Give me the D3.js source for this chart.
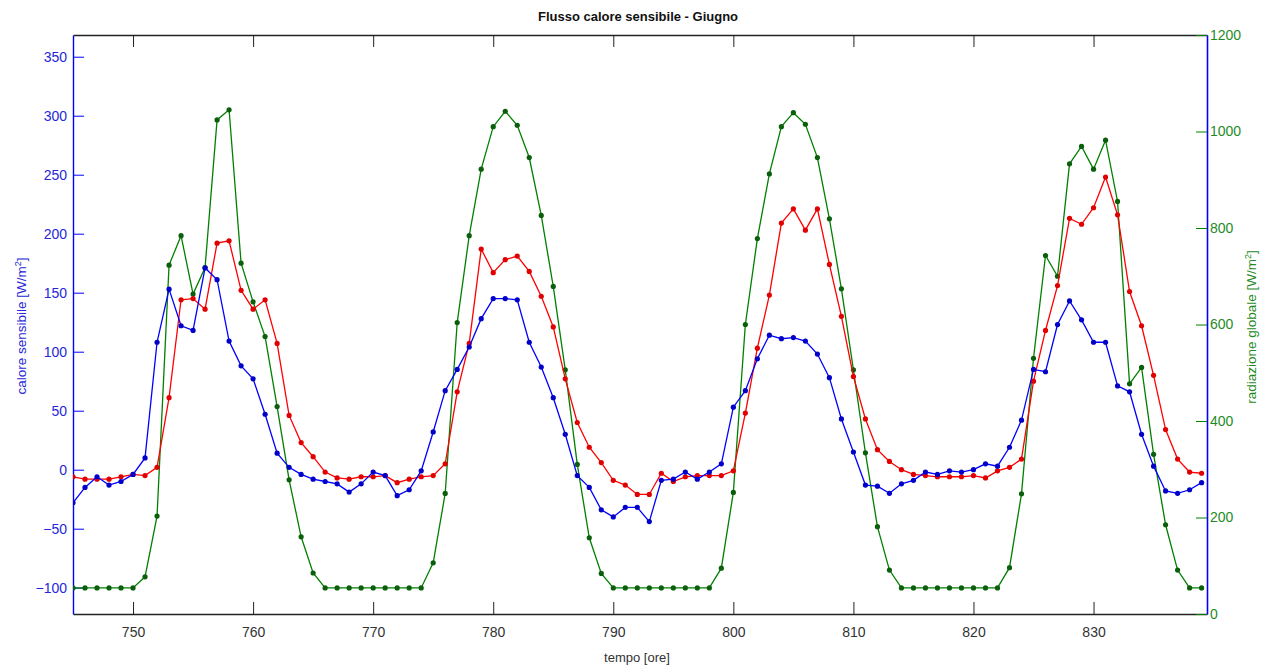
<!DOCTYPE html>
<html>
<head>
<meta charset="utf-8">
<script src="https://cdn.jsdelivr.net/npm/d3@7"></script>
<style>
  html, body { margin: 0; padding: 0; background: #ffffff; }
  svg { display: block; font-family: "Liberation Sans", Arial, sans-serif; }
</style>
</head>
<body>
<svg id="chart" width="1262" height="670"></svg>
<script>
// ---- data ----
const hours = d3.range(745, 840); // 745 .. 839
const xTicks = [750, 760, 770, 780, 790, 800, 810, 820, 830];
const leftTicks = [-100, -50, 0, 50, 100, 150, 200, 250, 300, 350];
const rightTicks = [0, 200, 400, 600, 800, 1000, 1200];

const blueSeries = [
  -28, -15, -6, -13, -10, -4, 10, 108, 153, 122,
  118, 171, 161, 109, 88, 77, 47, 14, 2, -4,
  -8, -10, -12, -19, -12, -2, -5, -22, -17, -1,
  32, 67, 85, 104, 128, 145, 145, 144, 108, 87,
  61, 30, -5, -15, -34, -40, -32, -32, -44, -9,
  -8, -2, -8, -2, 5, 53, 67, 94, 114, 111,
  112, 109, 98, 78, 43, 15, -13, -14, -20, -12,
  -9, -2, -4, -1, -2, 0, 5, 3, 19, 42,
  85, 83, 123, 143, 127, 108, 108, 71, 66, 30,
  3, -18, -20, -17, -11
];
const redSeries = [
  -6, -8, -8, -8, -6, -4, -5, 2, 61, 144,
  145, 136, 192, 194, 152, 136, 144, 107, 46, 23,
  11, -2, -7, -8, -6, -6, -5, -11, -8, -6,
  -5, 5, 66, 107, 187, 167, 178, 181, 168, 147,
  121, 77, 40, 19, 6, -9, -13, -21, -21, -3,
  -10, -6, -5, -5, -5, -1, 48, 103, 148, 209,
  221, 203, 221, 174, 130, 79, 43, 17, 7, 0,
  -4, -5, -6, -6, -6, -5, -7, -1, 2, 9,
  75, 118, 156, 213, 208, 222, 248, 216, 151, 122,
  80, 34, 9, -2, -3
];
const greenSeries = [
  54, 54, 54, 54, 54, 54, 77, 203, 723, 784,
  663, 718, 1024, 1045, 727, 647, 575, 430, 278, 160,
  85, 54, 54, 54, 54, 54, 54, 54, 54, 54,
  106, 250, 604, 784, 922, 1010, 1042, 1013, 946, 826,
  679, 506, 310, 158, 84, 54, 54, 54, 54, 54,
  54, 54, 54, 54, 95, 252, 600, 778, 912, 1010,
  1039, 1015, 946, 819, 674, 506, 334, 181, 91, 54,
  54, 54, 54, 54, 54, 54, 54, 54, 96, 249,
  530, 743, 700, 933, 969, 922, 982, 855, 477, 511,
  331, 185, 91, 54, 54
];

// ---- layout ----
const svg = d3.select("#chart");
const L = 73, R = 1207, T = 35, B = 614;

const x = d3.scaleLinear().domain([745, 839.45]).range([L, R]);
const yL = d3.scaleLinear().domain([-122.3, 368.4]).range([B, T]);
const yR = d3.scaleLinear().domain([0, 1200]).range([B, T]);

const BLUE = "#0000ff", RED = "#ff0000", GREEN = "#008000";
const BLUE_TXT = "#2626d8", GREEN_TXT = "#1f8a1f", DARK = "#333333";

// clip
svg.append("clipPath").attr("id", "clip")
  .append("rect").attr("x", L).attr("y", T).attr("width", R - L).attr("height", B - T);

// axes
const gB = svg.append("g").attr("transform", `translate(0,${B})`)
  .call(d3.axisBottom(x).tickValues(xTicks).tickFormat(d3.format("d"))
    .tickSize(-12).tickSizeOuter(0).tickPadding(13));
gB.select(".domain").attr("stroke", "#222").attr("stroke-width", 1.4);
gB.selectAll(".tick line").attr("stroke", "#222");
gB.selectAll(".tick text").attr("fill", DARK).style("font-size", "14px");

const gT = svg.append("g").attr("transform", `translate(0,${T})`)
  .call(d3.axisTop(x).tickValues(xTicks).tickFormat("")
    .tickSize(-12).tickSizeOuter(0));
gT.select(".domain").attr("stroke", "#222").attr("stroke-width", 1.4);
gT.selectAll(".tick line").attr("stroke", "#222");

const gL = svg.append("g").attr("transform", `translate(${L},0)`)
  .call(d3.axisLeft(yL).tickValues(leftTicks).tickFormat(d3.format("d"))
    .tickSize(-11).tickSizeOuter(0).tickPadding(6));
gL.select(".domain").attr("stroke", BLUE).attr("stroke-width", 1.4);
gL.selectAll(".tick line").attr("stroke", BLUE);
gL.selectAll(".tick text").attr("fill", BLUE_TXT).style("font-size", "14px");

const gR = svg.append("g").attr("transform", `translate(${R},0)`)
  .call(d3.axisRight(yR).tickValues(rightTicks).tickFormat(d3.format("d"))
    .tickSize(-11).tickSizeOuter(0).tickPadding(3));
gR.select(".domain").attr("stroke", BLUE).attr("stroke-width", 1.6);
gR.selectAll(".tick line").attr("stroke", GREEN);
gR.selectAll(".tick text").attr("fill", GREEN_TXT).style("font-size", "14px");

// series
const plot = svg.append("g").attr("clip-path", "url(#clip)");
function drawSeries(vals, yScale, color, markFill) {
  const pts = hours.map((h, i) => [h, vals[i]]);
  plot.append("path").datum(pts)
    .attr("fill", "none").attr("stroke", color).attr("stroke-width", 1.3)
    .attr("d", d3.line().x(d => x(d[0])).y(d => yScale(d[1])));
  plot.append("g").selectAll("circle").data(pts).join("circle")
    .attr("cx", d => x(d[0])).attr("cy", d => yScale(d[1]))
    .attr("r", 2.6).attr("fill", markFill);
}
drawSeries(greenSeries, yR, GREEN, "#0b5e0b");
drawSeries(redSeries, yL, RED, "#e00000");
drawSeries(blueSeries, yL, BLUE, "#0000c8");

// titles
svg.append("text").attr("x", 638).attr("y", 21).attr("text-anchor", "middle")
  .style("font-size", "13px").style("font-weight", "bold").attr("fill", "#111")
  .text("Flusso calore sensibile - Giugno");

svg.append("text").attr("x", 637).attr("y", 662).attr("text-anchor", "middle")
  .style("font-size", "13px").attr("fill", DARK)
  .text("tempo [ore]");

const yl = svg.append("text").attr("transform", "translate(26,326) rotate(-90)")
  .attr("text-anchor", "middle").style("font-size", "13.5px").attr("fill", BLUE_TXT);
yl.append("tspan").text("calore sensibile [W/m");
yl.append("tspan").attr("dy", -5).style("font-size", "9px").text("2");
yl.append("tspan").attr("dy", 5).text("]");

const yr = svg.append("text").attr("transform", "translate(1256,327) rotate(-90)")
  .attr("text-anchor", "middle").style("font-size", "13.5px").attr("fill", GREEN_TXT);
yr.append("tspan").text("radiazione globale [W/m");
yr.append("tspan").attr("dy", -5).style("font-size", "9px").text("2");
yr.append("tspan").attr("dy", 5).text("]");
</script>
</body>
</html>
